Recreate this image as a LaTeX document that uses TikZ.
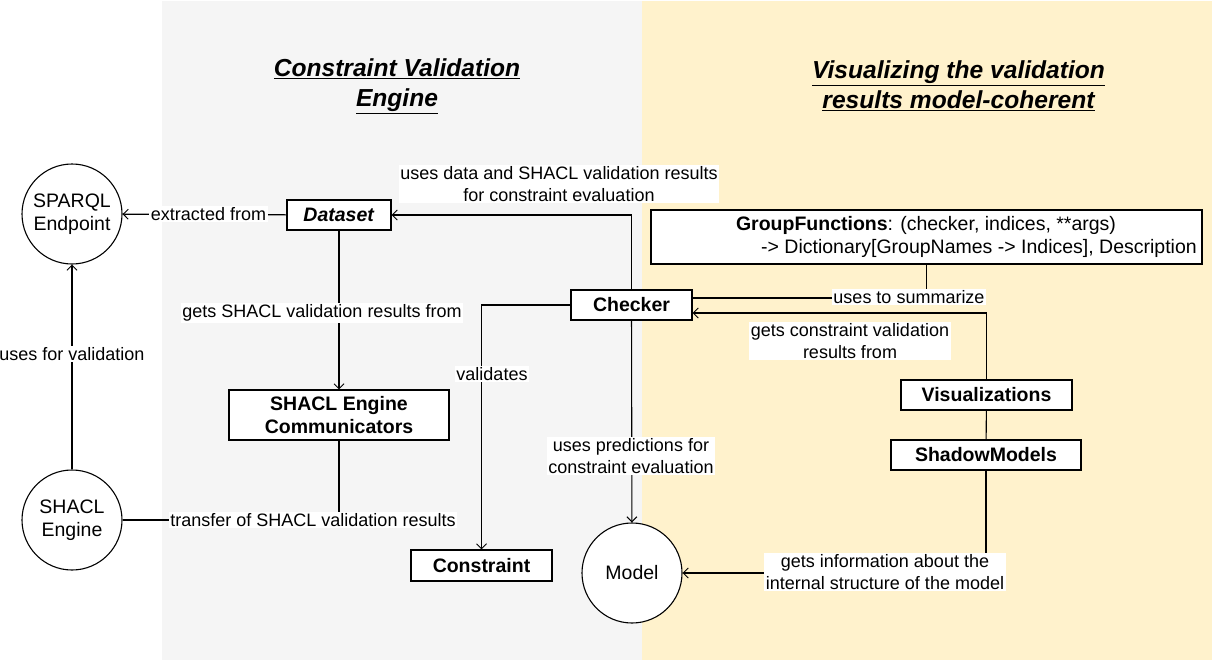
\documentclass[tikz,border=0pt]{standalone}
\usepackage{fontspec}
\setmainfont{Liberation Sans}
\usetikzlibrary{arrows.meta}
\definecolor{bggray}{HTML}{F5F5F5}
\definecolor{bgyellow}{HTML}{FFF2CC}
\begin{document}
\begin{tikzpicture}[x=1pt,y=-1pt,
  box/.style={draw, fill=white, line width=1.1pt, inner sep=0pt, align=center,
    font=\fontsize{19.5}{23.5}\selectfont\bfseries},
  circ/.style={draw, circle, fill=white, line width=1.1pt, minimum size=100pt, inner sep=0pt,
    align=center, font=\fontsize{19.5}{23.5}\selectfont},
  lbl/.style={fill=white, inner sep=1.5pt, align=center, font=\fontsize{18}{21.5}\selectfont},
  conn/.style={line width=1.1pt},
  arr/.style={conn, -{Straight Barb[length=5pt,width=10pt,line width=1pt]}},
  ttl/.style={align=center, font=\fontsize{24.6}{30}\selectfont\bfseries\itshape}
]
\useasboundingbox (0,0) rectangle (1212,661);
\fill[white] (0,0) rectangle (1212,661);
\fill[bggray] (162,1) rectangle (642,660);
\fill[bgyellow] (642,1) rectangle (1212,660);

\node[ttl] (t1) at (397,86) {\underline{Constraint Validation}\\\underline{Engine}};
\node[ttl] (t2) at (958.5,86) {\underline{Visualizing the validation}\\\underline{results model-coherent}};

\node[circ] (sparql) at (72,214) {SPARQL\\Endpoint};
\node[circ] (shacl) at (72,520) {SHACL\\Engine};
\node[circ] (model) at (632,573) {Model};

\node[box, minimum width=104pt, minimum height=30pt] (dataset) at (339,215) {\textit{Dataset}};
\node[box, minimum width=220pt, minimum height=50pt] (comm) at (339,415) {SHACL Engine\\Communicators};
\node[box, minimum width=121pt, minimum height=30pt] (checker) at (631.5,305) {Checker};
\node[box, minimum width=141pt, minimum height=31pt] (constraint) at (481.5,565.5) {Constraint};
\node[box, minimum width=551pt, minimum height=54pt] (gf) at (926.5,237) {};
\node[font=\fontsize{19.5}{23.5}\selectfont, anchor=center] (gf1) at (926,225) {\textbf{GroupFunctions}: (checker, indices, **args)};
\node[font=\fontsize{19.5}{23.5}\selectfont, anchor=east, inner sep=0pt] (gf2) at (1197,248) {-> Dictionary[GroupNames -> Indices], Description};
\node[box, minimum width=171pt, minimum height=30pt] (vis) at (986.5,395) {Visualizations};
\node[box, minimum width=190pt, minimum height=30pt] (shadow) at (986,455) {ShadowModels};

% connectors
\draw[arr] (dataset) -- (sparql);
\node[lbl] (l1) at (208.5,214) {extracted from};

\draw[arr] (checker.north) |- (dataset.east);
\node[lbl] (l2) at (559,184) {uses data and SHACL validation results\\for constraint evaluation};

\draw[arr] (dataset) -- (comm);
\node[lbl] (l3) at (322,313) {gets SHACL validation results from};

\draw[conn] (shacl.east) -| (comm.south);
\node[lbl] (l4) at (313,520) {transfer of SHACL validation results};

\draw[arr] (shacl) -- (sparql);
\node[lbl] (l5) at (72,354) {uses for validation};

\draw[arr] (checker.west) -| (constraint.north);
\node[lbl] (l6) at (492,374) {validates};

\draw[arr] (checker) -- (model);
\node[lbl] (l7) at (631,456) {uses predictions for\\constraint evaluation};

\draw[conn] (gf.south) |- ([yshift=7pt]checker.east);
\node[lbl] (l8) at (909,297) {uses to summarize};

\draw[arr] (vis.north) |- ([yshift=-8pt]checker.east);
\node[lbl] (l9) at (850,341) {gets constraint validation\\results from};

\draw[conn] (vis) -- (shadow);

\draw[arr] (shadow.south) |- (model.east);
\node[lbl] (l10) at (885,572) {gets information about the\\internal structure of the model};
\end{tikzpicture}
\end{document}
